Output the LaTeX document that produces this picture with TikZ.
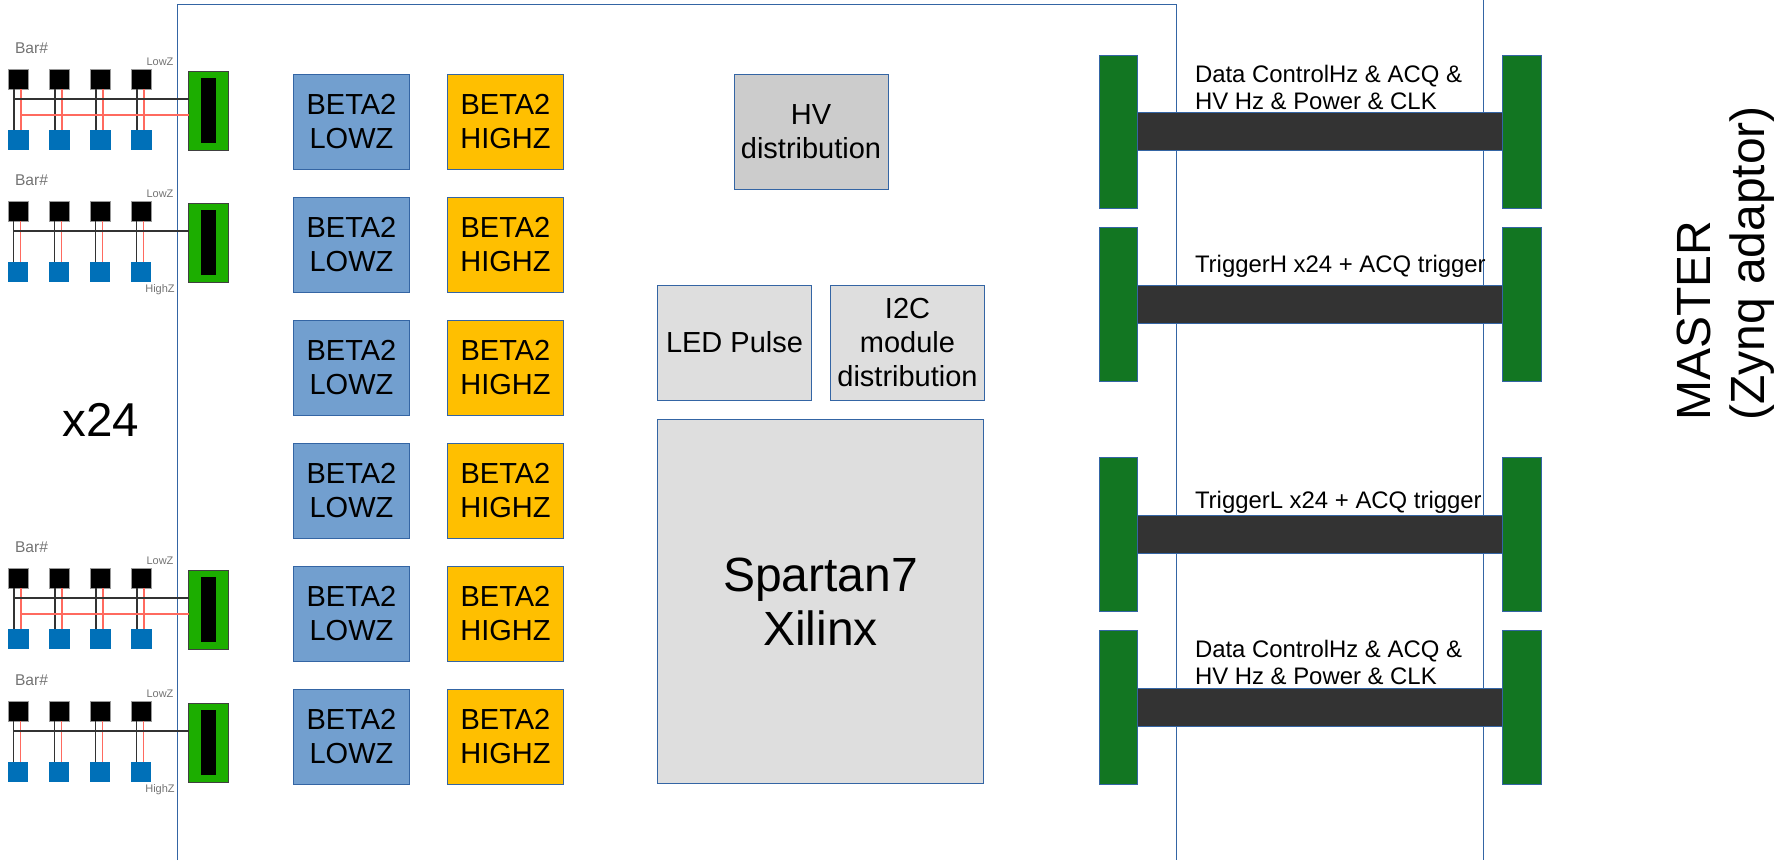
\documentclass[tikz,border=0pt]{standalone}
\usepackage{fontspec}
\setmainfont{Liberation Sans}
\usetikzlibrary{positioning}
\definecolor{frameblue}{HTML}{3465A4}
\definecolor{lowzblue}{HTML}{729FCF}
\definecolor{highzamber}{HTML}{FFBF00}
\definecolor{connbright}{HTML}{1CAE00}
\definecolor{conndark}{HTML}{127622}
\definecolor{padblue}{HTML}{0070B8}
\definecolor{wirered}{HTML}{FF6A5F}

\begin{document}
\begin{tikzpicture}[
  x=1pt,y=-1pt,
  node distance=27.5pt and 38.5pt,
  block/.style={draw=frameblue,line width=0.8pt,inner sep=0pt,outer sep=0pt,align=center,font=\fontsize{29}{34}\selectfont},
  lowz/.style={block,fill=lowzblue,minimum width=115.5pt,minimum height=95.5pt},
  highz/.style={block,fill=highzamber,minimum width=115.5pt,minimum height=95.5pt},
  svc/.style={block,fill=black!13,minimum width=154pt,minimum height=115pt},
  conn/.style={draw=frameblue,line width=0.8pt,fill=conndark,inner sep=0pt,outer sep=0pt,minimum width=38.5pt,minimum height=153.5pt},
  bus/.style={draw=frameblue,line width=0.8pt,fill=black!80,inner sep=0pt,outer sep=0pt,minimum width=365pt,minimum height=38pt},
  buslabel/.style={anchor=south west,inner sep=0pt,align=left,font=\fontsize{23.9}{27}\selectfont},
  sqblack/.style={fill=black,draw=black!40,line width=0.5pt,inner sep=0pt,outer sep=0pt,minimum size=20pt},
  sqblue/.style={fill=padblue,inner sep=0pt,outer sep=0pt,minimum size=20.5pt},
  barconn/.style={draw=black!75,line width=1pt,fill=connbright,inner sep=0pt,outer sep=0pt,minimum width=40pt,minimum height=78.5pt},
  barslot/.style={fill=black,inner sep=0pt,outer sep=0pt,minimum width=15pt,minimum height=65pt},
  wireblk/.style={draw=black!80,line width=1.6pt},
  wirered/.style={draw=wirered,line width=1.8pt},
  tag/.style={text=black!55,inner sep=0pt,font=\fontsize{11}{13}\selectfont},
  bartag/.style={text=black!55,inner sep=0pt,font=\fontsize{15.6}{18}\selectfont}
]
\useasboundingbox (0,0) rectangle (1790,860);
% boards
\draw[frameblue,line width=0.9pt] (177,860) -- (177,4.5) -- (1176,4.5) -- (1176,860);
\draw[frameblue,line width=0.9pt] (1483,0) -- (1483,860);
% bars and their connectors
\foreach \g/\gx/\gy in {a/0/69,b/-0.5/201,c/0/568,d/-0.5/701} {
  \node[barconn] (con\g) at (208.7,\gy+41.8) {};
  \node[barslot] at (con\g) {};
  \node[bartag] at (31.5,\gy-20.5) {Bar\#};
  \node[tag] at (160,\gy-7) {LowZ};
  \foreach \i in {0,1,2,3} {
    \node[sqblack] (blk\g\i) at ({18.5+\gx+41*\i},\gy+10) {};
    \node[sqblue] (pad\g\i) at ({18.5+\gx+41*\i},\gy+71) {};
    \draw[wireblk] ([xshift=-4.5pt]blk\g\i.south) -- ([xshift=-4.5pt]pad\g\i.north);
    \draw[wirered] ([xshift=2.5pt]blk\g\i.south) -- ([xshift=2.5pt]pad\g\i.north);
  }
  \coordinate (tap\g) at (14+\gx,\gy+30);
  \draw[wireblk] (tap\g) -- (tap\g -| con\g.west);
}
\coordinate (tapreda) at (21,115);
\coordinate (tapredc) at (21,614);
\draw[wirered] (tapreda) -- (tapreda -| cona.west);
\draw[wirered] (tapredc) -- (tapredc -| conc.west);
\node[tag] at (160,290) {HighZ};
\node[tag] at (160,790) {HighZ};
\node[font=\fontsize{47.5}{55}\selectfont,inner sep=0pt] (count) at (101,420) {x24};
% readout chips
\node[lowz,anchor=north west] (low1) at (293.7,74) {BETA2\\LOWZ};
\node[lowz,below=of low1] (low2) {BETA2\\LOWZ};
\node[lowz,below=of low2] (low3) {BETA2\\LOWZ};
\node[lowz,below=of low3] (low4) {BETA2\\LOWZ};
\node[lowz,below=of low4] (low5) {BETA2\\LOWZ};
\node[lowz,below=of low5] (low6) {BETA2\\LOWZ};
\node[highz,right=of low1] (high1) {BETA2\\HIGHZ};
\node[highz,right=of low2] (high2) {BETA2\\HIGHZ};
\node[highz,right=of low3] (high3) {BETA2\\HIGHZ};
\node[highz,right=of low4] (high4) {BETA2\\HIGHZ};
\node[highz,right=of low5] (high5) {BETA2\\HIGHZ};
\node[highz,right=of low6] (high6) {BETA2\\HIGHZ};
% services
\node[svc,fill=black!20,anchor=north west] (hv) at (734,74) {HV\\distribution};
\node[svc,anchor=north west] (led) at (657.5,285) {LED Pulse};
\node[svc,right=19pt of led] (itwoc) {I2C\\module\\distribution};
\node[svc,anchor=north west,minimum width=326pt,minimum height=364pt,font=\fontsize{48}{54}\selectfont] (fpga) at (657.5,419.5) {Spartan7\\Xilinx};
% links to the master
\node[conn,anchor=north west] (left1) at (1099.3,55) {};
\node[conn,anchor=north west] (left2) at (1099.3,227.5) {};
\node[conn,anchor=north west] (left3) at (1099.3,457.5) {};
\node[conn,anchor=north west] (left4) at (1099.3,630.5) {};
\node[bus,right=0pt of left1] (bus1) {};
\node[bus,right=0pt of left2] (bus2) {};
\node[bus,right=0pt of left3] (bus3) {};
\node[bus,right=0pt of left4] (bus4) {};
\node[conn,right=0pt of bus1] (right1) {};
\node[conn,right=0pt of bus2] (right2) {};
\node[conn,right=0pt of bus3] (right3) {};
\node[conn,right=0pt of bus4] (right4) {};
\node[buslabel,above right=3pt and 57pt of bus1.north west,anchor=south west] (text1) {Data ControlHz \& ACQ \&\\HV Hz \& Power \& CLK};
\node[buslabel,above right=8pt and 57pt of bus2.north west,anchor=south west] (text2) {TriggerH x24 + ACQ trigger};
\node[buslabel,above right=2pt and 57pt of bus3.north west,anchor=south west] (text3) {TriggerL x24 + ACQ trigger};
\node[buslabel,above right=3pt and 57pt of bus4.north west,anchor=south west] (text4) {Data ControlHz \& ACQ \&\\HV Hz \& Power \& CLK};
\node[rotate=90,anchor=west,align=left,inner sep=0pt,font=\fontsize{48}{54}\selectfont] (master) at (1726,421) {MASTER\\(Zynq adaptor)};
\end{tikzpicture}
\end{document}
